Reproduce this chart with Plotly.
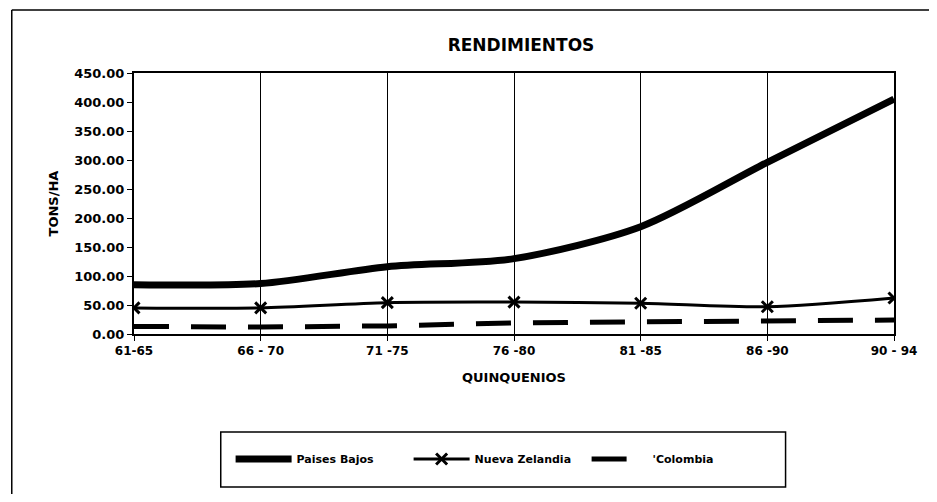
import plotly.graph_objects as go

# Datos
quinquenios = ["61-65", "66 - 70", "71 -75", "76 -80", "81 -85", "86 -90", "90 - 94"]
paises_bajos = [85, 87, 116, 130, 185, 296, 405]
nueva_zelandia = [45, 45, 54, 55, 53, 47, 62]
colombia = [13, 12, 14, 19, 21, 23, 24]

FONT = "DejaVu Sans"
NEGRO = "#000000"

pos = list(range(len(quinquenios)))

# zona de trazado (en píxeles de pantalla): x 134..905, y 73..334
X0, X1, Y0, Y1 = 134, 905, 73, 334

def px(x):
    return (x - X0) / (X1 - X0)

def py(y):
    return (Y1 - y) / (Y1 - Y0)

fig = go.Figure()

fig.add_trace(go.Scatter(
    x=pos, y=paises_bajos, name="Paises Bajos", mode="lines",
    line=dict(color=NEGRO, width=7, shape="spline", smoothing=0.8),
))
fig.add_trace(go.Scatter(
    x=pos, y=nueva_zelandia, name="Nueva Zelandia", mode="lines+markers",
    line=dict(color=NEGRO, width=3, shape="spline", smoothing=0.8),
    marker=dict(symbol="x-thin", size=11, line=dict(color=NEGRO, width=3)),
))
fig.add_trace(go.Scatter(
    x=pos, y=colombia, name="'Colombia", mode="lines",
    line=dict(color=NEGRO, width=5, dash="35px,22px"),
))

# la página añade 8 px de margen al cuerpo: figura de 921x486 para no desbordar
W, H = 921, 486
fig.update_layout(
    width=W, height=H,
    margin=dict(l=X0 - 8, r=8 + W - X1, t=Y0 - 8, b=8 + H - Y1),
    paper_bgcolor="white", plot_bgcolor="white",
    font=dict(family=FONT, color=NEGRO, size=13),
    title=dict(text="<b>RENDIMIENTOS</b>", x=(521 - 8) / W, xanchor="center",
               y=1 - (45 - 8) / H, yanchor="middle", font=dict(size=17)),
    showlegend=True,
    legend=dict(
        orientation="h", x=px(232), y=py(459),
        xanchor="left", yanchor="middle",
        borderwidth=0, bgcolor="rgba(0,0,0,0)",
        font=dict(size=11, family=FONT, weight="bold"),
        entrywidth=107, entrywidthmode="pixels",
        itemwidth=56,
    ),
)

fig.update_xaxes(
    tickmode="array", tickvals=pos,
    ticktext=["<b>%s</b>" % q for q in quinquenios],
    tickfont=dict(size=12),
    range=[0, len(quinquenios) - 1],
    showgrid=True, gridcolor=NEGRO, gridwidth=1,
    showline=True, linecolor=NEGRO, linewidth=2, mirror=True,
    ticks="outside", ticklen=5, tickcolor=NEGRO,
    zeroline=False,
    title=dict(text="<b>QUINQUENIOS</b>", standoff=15, font=dict(size=13)),
)
fig.update_yaxes(
    range=[0, 450], tickvals=list(range(0, 451, 50)),
    ticktext=["<b>%.2f</b>" % v for v in range(0, 451, 50)],
    showgrid=False,
    showline=True, linecolor=NEGRO, linewidth=2, mirror=True,
    ticks="outside", ticklen=5, tickcolor=NEGRO,
    zeroline=False,
    title=dict(text="<b>TONS/HA</b>", standoff=13, font=dict(size=13)),
)

# Marco exterior del gráfico
fig.add_shape(type="line", xref="paper", yref="paper",
              x0=px(10), x1=px(10), y0=py(510), y1=py(10),
              line=dict(color=NEGRO, width=1.5))
fig.add_shape(type="line", xref="paper", yref="paper",
              x0=px(10), x1=px(945), y0=py(10), y1=py(10),
              line=dict(color=NEGRO, width=1.5))
# Recuadro de la leyenda
fig.add_shape(type="rect", xref="paper", yref="paper",
              x0=px(222), x1=px(795), y0=py(487), y1=py(432),
              line=dict(color=NEGRO, width=1.5))

fig.write_html("out.html")
